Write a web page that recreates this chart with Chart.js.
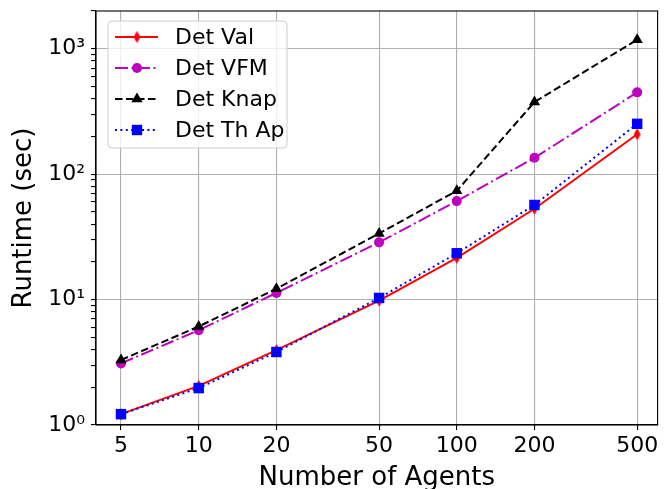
<!DOCTYPE html>
<html>
<head>
<meta charset="utf-8">
<script src="https://cdn.jsdelivr.net/npm/chart.js@4/dist/chart.umd.min.js"></script>
<style>
  body { margin: 0; background: #fff; }
  #chart { display: block; }
</style>
</head>
<body>
<canvas id="chart" width="665" height="489"></canvas>
<script>
// values
const agents = [5, 10, 20, 50, 100, 200, 500];
const detVal = [1.22, 2.05, 3.95, 9.8, 21.5, 53, 208];
const detVFM = [3.1, 5.7, 11.3, 28.6, 61, 135, 449];
const detKnap = [3.3, 6.1, 12.2, 33.7, 73.6, 376, 1180];
const detThAp = [1.22, 1.97, 3.82, 10.3, 23.4, 56.8, 252];
const yMajor = [1, 10, 100, 1000];
const supers = { 0: '\u2070', 1: '\u00b9', 2: '\u00b2', 3: '\u00b3' };

Chart.defaults.font.family = 'DejaVu Sans';
Chart.defaults.color = '#000';

// thin diamond marker like matplotlib 'd'
const thinDiamond = document.createElement('canvas');
thinDiamond.width = 9;
thinDiamond.height = 13;
(function () {
    const c = thinDiamond.getContext('2d');
    c.fillStyle = '#ff0000';
    c.beginPath();
    c.moveTo(4.5, 0.5);
    c.lineTo(8, 6.5);
    c.lineTo(4.5, 12.5);
    c.lineTo(1, 6.5);
    c.closePath();
    c.fill();
})();

const pts = arr => agents.map((a, i) => ({ x: a, y: arr[i] }));

const series = [
    { label: 'Det Val', data: pts(detVal), color: '#ff0000', dash: [], point: thinDiamond, radius: 6, order: 4 },
    { label: 'Det VFM', data: pts(detVFM), color: '#bf00bf', dash: [13, 3.5, 2, 3.5], point: 'circle', radius: 5, order: 3 },
    { label: 'Det Knap', data: pts(detKnap), color: '#000000', dash: [7.5, 3.5], point: 'triangle', radius: 6.5, order: 2 },
    { label: 'Det Th Ap', data: pts(detThAp), color: '#0000ff', dash: [2, 3.4], point: 'rect', radius: 7.4, order: 1 }
];

// legend drawn inside the plot, top-left, matplotlib style
const boxLegend = {
    id: 'boxLegend',
    afterDraw(chart) {
        const ctx = chart.ctx;
        const x0 = 108, y0 = 21, w = 179, h = 127, r = 4;
        ctx.save();
        ctx.beginPath();
        ctx.roundRect(x0, y0, w, h, r);
        ctx.fillStyle = 'rgba(255,255,255,0.8)';
        ctx.fill();
        ctx.strokeStyle = '#cccccc';
        ctx.lineWidth = 1;
        ctx.stroke();
        series.forEach((s, i) => {
            const yy = 37 + i * 31;
            ctx.strokeStyle = s.color;
            ctx.lineWidth = 2;
            ctx.setLineDash(s.dash);
            ctx.beginPath();
            ctx.moveTo(115, yy);
            ctx.lineTo(158, yy);
            ctx.stroke();
            ctx.setLineDash([]);
            ctx.fillStyle = s.color;
            const mx = 137;
            ctx.beginPath();
            if (s.point === 'circle') {
                ctx.arc(mx, yy, 5, 0, Math.PI * 2);
                ctx.fill();
            } else if (s.point === 'triangle') {
                const rr = 6.5;
                ctx.moveTo(mx, yy - rr);
                ctx.lineTo(mx + rr * Math.sin(Math.PI / 3), yy + rr * 0.5);
                ctx.lineTo(mx - rr * Math.sin(Math.PI / 3), yy + rr * 0.5);
                ctx.closePath();
                ctx.fill();
            } else if (s.point === 'rect') {
                ctx.fillRect(mx - 5.2, yy - 5.2, 10.4, 10.4);
            } else {
                ctx.drawImage(s.point, mx - 4.5, yy - 6.5);
            }
            ctx.fillStyle = '#000';
            ctx.font = '22px "DejaVu Sans"';
            ctx.textBaseline = 'middle';
            ctx.textAlign = 'left';
            ctx.fillText(s.label, 175, yy + 1);
        });
        ctx.restore();
    }
};

// top and right spines
const frame = {
    id: 'frame',
    afterDatasetsDraw(chart) {
        const a = chart.chartArea;
        const ctx = chart.ctx;
        ctx.save();
        ctx.strokeStyle = '#000';
        ctx.lineWidth = 1.1;
        ctx.strokeRect(a.left, a.top, a.right - a.left, a.bottom - a.top);
        ctx.restore();
    }
};

new Chart(document.getElementById('chart').getContext('2d'), {
    type: 'line',
    data: {
        datasets: series.map(s => ({
            label: s.label,
            data: s.data,
            borderColor: s.color,
            backgroundColor: s.color,
            borderWidth: 2,
            borderDash: s.dash,
            pointStyle: s.point,
            pointRadius: s.radius,
            pointBorderWidth: 0,
            pointBackgroundColor: s.color,
            tension: 0,
            order: s.order,
            clip: false
        }))
    },
    options: {
        responsive: false,
        animation: false,
        layout: { padding: { top: 11, right: 2, left: 0, bottom: 0 } },
        plugins: {
            legend: { display: false },
            tooltip: { enabled: false }
        },
        scales: {
            x: {
                type: 'logarithmic',
                min: 4,
                max: 600,
                afterBuildTicks: scale => {
                    scale.ticks = agents.map(v => ({ value: v }));
                },
                afterFit: scale => {
                    scale.height = 64;
                    scale.paddingLeft = 0;
                    scale.paddingRight = 0;
                },
                ticks: {
                    autoSkip: false,
                    maxRotation: 0,
                    font: { size: 22 },
                    padding: 3,
                    callback: v => String(v)
                },
                grid: { color: '#b0b0b0', lineWidth: 1.1, tickLength: 5, tickColor: '#000' },
                border: { color: '#000', width: 1.1 },
                title: {
                    display: true,
                    text: 'Number of Agents',
                    font: { size: 26 },
                    padding: { top: 0, bottom: -5 }
                }
            },
            y: {
                type: 'logarithmic',
                min: 1,
                max: 2000,
                afterBuildTicks: scale => {
                    const t = [];
                    yMajor.forEach(d => {
                        t.push({ value: d, major: true });
                        if (d < 1000) {
                            for (let k = 2; k <= 9; k++) t.push({ value: d * k });
                        }
                    });
                    t.push({ value: 2000 });
                    scale.ticks = t;
                },
                afterFit: scale => {
                    scale.width = 96;
                    scale.paddingTop = 0;
                    scale.paddingBottom = 0;
                },
                ticks: {
                    autoSkip: false,
                    font: { size: 22 },
                    padding: 6,
                    callback: v => {
                        const e = Math.round(Math.log10(v));
                        return yMajor.includes(v) ? '10' + supers[e] : '';
                    }
                },
                grid: {
                    lineWidth: 1.1,
                    tickLength: 5,
                    color: c => yMajor.includes(c.tick && c.tick.value) ? '#b0b0b0' : 'rgba(0,0,0,0)',
                    tickColor: '#000'
                },
                border: { color: '#000', width: 1.1 },
                title: {
                    display: true,
                    text: 'Runtime (sec)',
                    font: { size: 26 },
                    padding: { top: 9, bottom: 0 }
                }
            }
        }
    },
    plugins: [boxLegend, frame]
});
</script>
</body>
</html>
